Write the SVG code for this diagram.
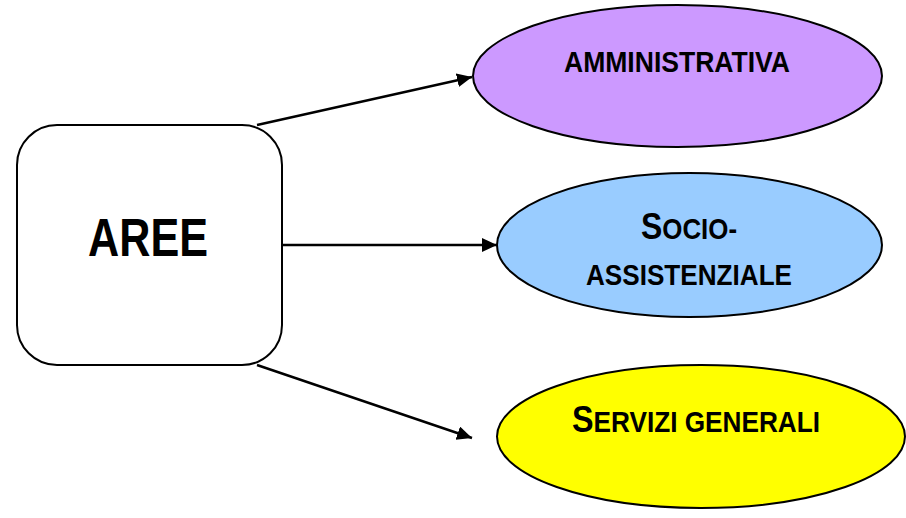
<svg xmlns="http://www.w3.org/2000/svg" width="906" height="518" viewBox="0 0 906 518">
<style>
.shape{stroke:#000;stroke-width:2}
.lbl{font-family:"Liberation Sans",Arial,sans-serif;font-weight:bold;fill:#000;text-anchor:middle}
.big{font-size:37px}
.sm{font-size:30px}
.edge{stroke:#000;stroke-width:2.4;fill:none;marker-end:url(#arr)}
</style>
<defs>
<marker id="arr" markerUnits="userSpaceOnUse" markerWidth="16" markerHeight="16" refX="15" refY="7" orient="auto">
<path d="M0,0 L15,7 L0,14 Z" fill="#000"/>
</marker>
</defs>
<rect width="906" height="518" fill="#fff"/>
<g id="connectors">
<line class="edge" x1="257" y1="125" x2="472" y2="77"/>
<line class="edge" x1="282" y1="245" x2="497" y2="245"/>
<line class="edge" x1="257" y1="365" x2="472" y2="438"/>
</g>
<g id="aree">
<rect class="shape" x="17" y="125" width="265" height="240" rx="40" ry="40" fill="#fff"/>
<text class="lbl" x="148" y="256" font-size="53" textLength="120" lengthAdjust="spacingAndGlyphs">AREE</text>
</g>
<g id="amministrativa">
<ellipse class="shape" cx="677.5" cy="76" rx="204.5" ry="71" fill="#CC99FF"/>
<text class="lbl sm" x="677" y="72" textLength="226" lengthAdjust="spacingAndGlyphs">AMMINISTRATIVA</text>
</g>
<g id="socio-assistenziale">
<ellipse class="shape" cx="689.5" cy="245" rx="192.5" ry="72" fill="#99CCFF"/>
<text class="lbl" x="689" y="239" textLength="96" lengthAdjust="spacingAndGlyphs"><tspan class="big">S</tspan><tspan class="sm">OCIO-</tspan></text>
<text class="lbl sm" x="689" y="285" textLength="206" lengthAdjust="spacingAndGlyphs">ASSISTENZIALE</text>
</g>
<g id="servizi-generali">
<ellipse class="shape" cx="701" cy="436.5" rx="204" ry="71.5" fill="#FFFF00"/>
<text class="lbl" x="696" y="432" textLength="248" lengthAdjust="spacingAndGlyphs"><tspan class="big">S</tspan><tspan class="sm">ERVIZI GENERALI</tspan></text>
</g>
</svg>
